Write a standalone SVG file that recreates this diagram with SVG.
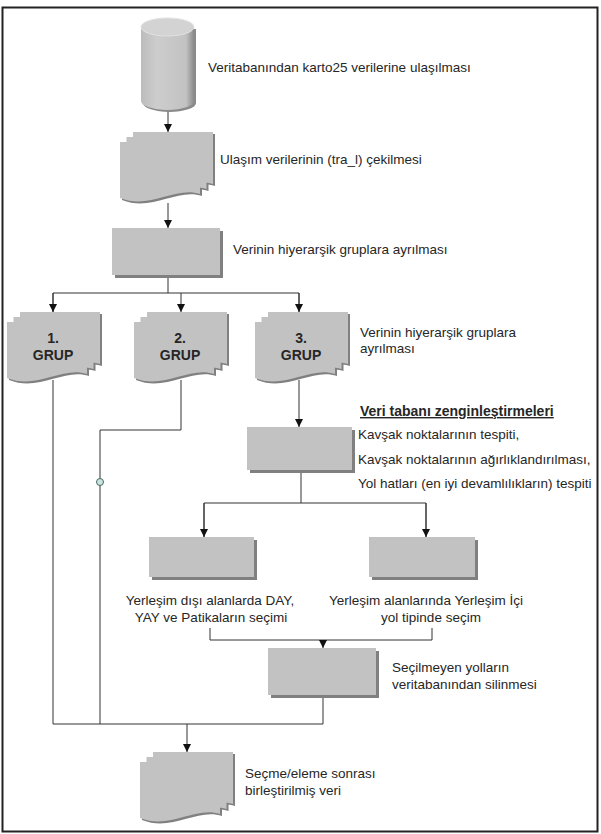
<svg xmlns="http://www.w3.org/2000/svg" xmlns:xlink="http://www.w3.org/1999/xlink" width="601" height="834" viewBox="0 0 601 834">
<style>
  .t { font-family: "Liberation Sans", Arial, sans-serif; font-size: 13.5px; fill: #262626; }
  .b { font-family: "Liberation Sans", Arial, sans-serif; font-size: 14px; font-weight: bold; fill: #262626; }
  .c { fill: none; stroke: #333; stroke-width: 1; }
  .shadow { fill: #808080; }
  .box { fill: #c2c2c2; }
</style>
<defs>
  <marker id="arr" viewBox="0 0 8 8" refX="8" refY="4" markerWidth="8" markerHeight="8" markerUnits="userSpaceOnUse" orient="auto">
    <path d="M0,0 L8,4 L0,8 Z" fill="#111"/>
  </marker>
  <path id="page" d="M0,0 H80 V52 C55,44 30,68 0,56 Z"/>
  <g id="mdoc">
    <use href="#page" class="shadow" transform="translate(15,2)"/>
    <use href="#page" class="shadow" transform="translate(8.5,7)"/>
    <use href="#page" class="shadow" transform="translate(2,12)"/>
    <use href="#page" class="box" transform="translate(13,0)"/>
    <use href="#page" class="box" transform="translate(6.5,5)"/>
    <use href="#page" class="box" transform="translate(0,10)"/>
  </g>
  <linearGradient id="cyl" x1="0" y1="0" x2="1" y2="0">
    <stop offset="0" stop-color="#bcbcbc"/>
    <stop offset="0.3" stop-color="#cdcdcd"/>
    <stop offset="0.85" stop-color="#c2c2c2"/>
    <stop offset="1" stop-color="#8a8a8a"/>
  </linearGradient>
</defs>

<rect x="2.5" y="7.5" width="595" height="824" fill="#fff" stroke="#222" stroke-width="2"/>

<g id="connectors">
  <line class="c" x1="168" y1="110" x2="168" y2="132" marker-end="url(#arr)"/>
  <line class="c" x1="168" y1="203" x2="168" y2="228" marker-end="url(#arr)"/>
  <polyline class="c" points="168,278 168,293"/>
  <polyline class="c" points="53,312 53,293 299,293 299,312"/>
  <line class="c" x1="53" y1="293" x2="53" y2="312" marker-end="url(#arr)"/>
  <line class="c" x1="181" y1="293" x2="181" y2="312" marker-end="url(#arr)"/>
  <line class="c" x1="299" y1="293" x2="299" y2="312" marker-end="url(#arr)"/>
  <line class="c" x1="53" y1="380" x2="53" y2="724"/>
  <polyline class="c" points="181,380 181,430 100,430 100,724"/>
  <circle cx="100" cy="482" r="3.5" fill="#c8e6df" stroke="#4a6b66" stroke-width="1"/>
  <line class="c" x1="299" y1="380" x2="299" y2="427" marker-end="url(#arr)"/>
  <polyline class="c" points="301,473 301,503"/>
  <polyline class="c" points="204,537 204,503 426,503 426,537"/>
  <line class="c" x1="204" y1="503" x2="204" y2="537" marker-end="url(#arr)"/>
  <line class="c" x1="426" y1="503" x2="426" y2="537" marker-end="url(#arr)"/>
  <polyline class="c" points="210,628 210,640 432,640 432,628"/>
  <line class="c" x1="323" y1="640" x2="323" y2="648" marker-end="url(#arr)"/>
  <polyline class="c" points="323,698 323,724 53,724"/>
  <line class="c" x1="187" y1="724" x2="187" y2="752" marker-end="url(#arr)"/>
</g>

<g id="n-db">
  <path d="M143,29 V103 A26.5,9 0 0 0 196,103 V29 Z" fill="#8a8a8a"/>
  <path d="M141,27 V101 A26.5,9 0 0 0 194,101 V27 Z" fill="url(#cyl)"/>
  <ellipse cx="167.5" cy="27" rx="26.5" ry="9" fill="#d3d3d3" stroke="#e2e2e2" stroke-width="1"/>
  <text class="t" x="208" y="72">Veritabanından karto25 verilerine ulaşılması</text>
</g>

<g id="n-ulasim">
  <use href="#mdoc" x="120" y="132"/>
  <text class="t" x="220" y="164">Ulaşım verilerinin (tra_l) çekilmesi</text>
</g>

<g id="n-ayir">
  <rect x="115" y="231" width="108" height="47" class="shadow"/>
  <rect x="112" y="228" width="108" height="47" class="box"/>
  <text class="t" x="233" y="254">Verinin hiyerarşik gruplara ayrılması</text>
</g>

<g id="n-grup1">
  <use href="#mdoc" x="7" y="312"/>
  <text class="b" x="53" y="343" text-anchor="middle">1.</text>
  <text class="b" x="53" y="360" text-anchor="middle">GRUP</text>
</g>

<g id="n-grup2">
  <use href="#mdoc" x="134" y="312"/>
  <text class="b" x="180" y="343" text-anchor="middle">2.</text>
  <text class="b" x="180" y="360" text-anchor="middle">GRUP</text>
</g>

<g id="n-grup3">
  <use href="#mdoc" x="255" y="312"/>
  <text class="b" x="301" y="343" text-anchor="middle">3.</text>
  <text class="b" x="301" y="360" text-anchor="middle">GRUP</text>
  <text class="t" x="360" y="337">Verinin hiyerarşik gruplara</text>
  <text class="t" x="360" y="353">ayrılması</text>
</g>

<g id="n-zengin">
  <rect x="250" y="430" width="105" height="43" class="shadow"/>
  <rect x="247" y="427" width="105" height="43" class="box"/>
  <text class="b" x="360" y="416" text-decoration="underline">Veri tabanı zenginleştirmeleri</text>
  <text class="t" x="358" y="439">Kavşak noktalarının tespiti,</text>
  <text class="t" x="358" y="464">Kavşak noktalarının ağırlıklandırılması,</text>
  <text class="t" x="358" y="488">Yol hatları (en iyi devamlılıkların) tespiti</text>
</g>

<g id="n-disi">
  <rect x="152" y="540" width="105" height="40" class="shadow"/>
  <rect x="149" y="537" width="105" height="40" class="box"/>
  <text class="t" x="210" y="605" text-anchor="middle">Yerleşim dışı alanlarda DAY,</text>
  <text class="t" x="211" y="622" text-anchor="middle">YAY ve Patikaların seçimi</text>
</g>

<g id="n-ici">
  <rect x="372" y="540" width="106" height="40" class="shadow"/>
  <rect x="369" y="537" width="106" height="40" class="box"/>
  <text class="t" x="426" y="605" text-anchor="middle">Yerleşim alanlarında Yerleşim İçi</text>
  <text class="t" x="431" y="622" text-anchor="middle">yol tipinde seçim</text>
</g>

<g id="n-sil">
  <rect x="271" y="651" width="108" height="47" class="shadow"/>
  <rect x="268" y="648" width="108" height="47" class="box"/>
  <text class="t" x="392" y="672">Seçilmeyen yolların</text>
  <text class="t" x="392" y="689">veritabanından silinmesi</text>
</g>

<g id="n-son">
  <use href="#mdoc" x="140" y="752"/>
  <text class="t" x="245" y="778">Seçme/eleme sonrası</text>
  <text class="t" x="245" y="795">birleştirilmiş veri</text>
</g>
</svg>
